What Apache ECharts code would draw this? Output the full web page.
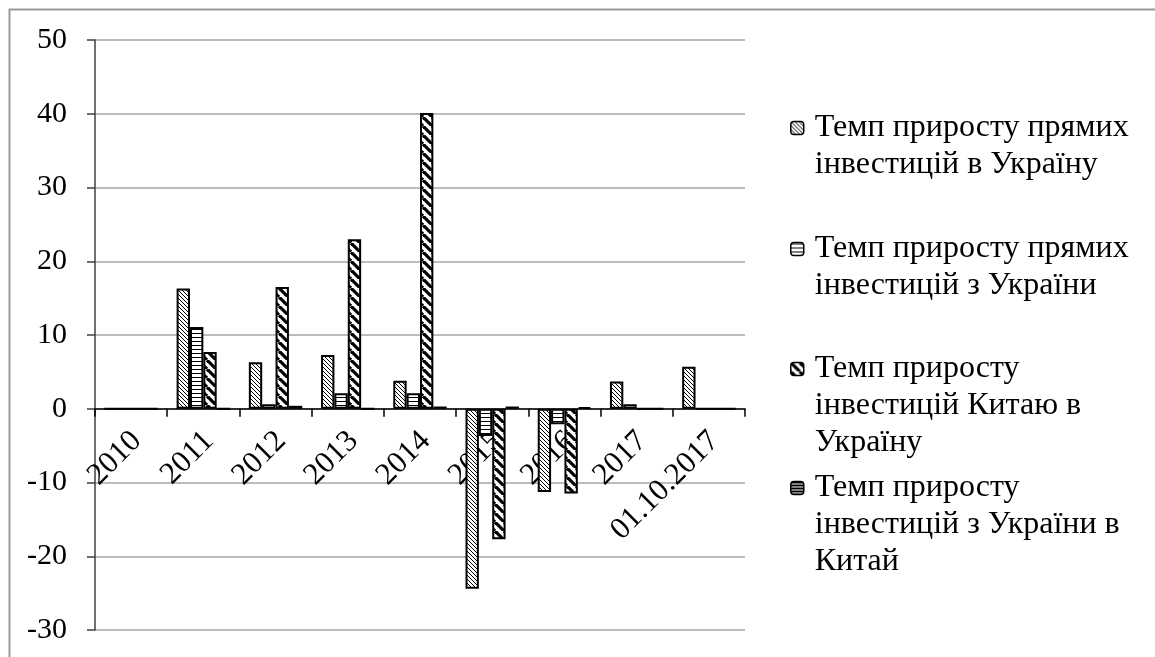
<!DOCTYPE html>
<html>
<head>
<meta charset="utf-8">
<script src="https://cdn.jsdelivr.net/npm/echarts@6/dist/echarts.min.js"></script>
<style>
html,body{margin:0;padding:0;background:#fff;}
#chart{width:1155px;height:657px;}
</style>
</head>
<body>
<div id="chart"></div>
<script>
const categories = ['2010', '2011', '2012', '2013', '2014', '2015', '2016', '2017', '01.10.2017'];
const seriesNames = [
  'Темп приросту прямих інвестицій в Україну',
  'Темп приросту прямих інвестицій з України',
  'Темп приросту інвестицій Китаю в Україну',
  'Темп приросту інвестицій з України в Китай'
];
const legendLabels = [
  'Темп приросту прямих\nінвестицій в Україну',
  'Темп приросту прямих\nінвестицій з України',
  'Темп приросту\nінвестицій Китаю в\nУкраїну',
  'Темп приросту\nінвестицій з України в\nКитай'
];
const fdiInUkraine = [0, 16.3, 6.3, 7.3, 3.8, -24.4, -11.3, 3.7, 5.7];
const fdiFromUkraine = [0, 11.1, 0.6, 2.1, 2.1, -3.7, -2.1, 0.6, 0];
const chinaToUkraine = [0, 7.7, 16.5, 23.0, 40.1, -17.7, -11.5, 0, 0];
const ukraineToChina = [0, 0, 0.4, 0, 0.3, 0.3, 0.2, 0, 0];
const yTicks = { min: -30, max: 50, interval: 10 };

function makePattern(type) {
  const c = document.createElement('canvas');
  const ctx = c.getContext('2d');
  let s;
  if (type === 'thinDiag') {
    s = 4; c.width = s; c.height = s;
    ctx.fillStyle = '#fff'; ctx.fillRect(0, 0, s, s);
    ctx.strokeStyle = '#000'; ctx.lineWidth = 1;
    for (let k = -s; k <= s; k += s) {
      ctx.beginPath(); ctx.moveTo(k, 0); ctx.lineTo(k + s, s); ctx.stroke();
    }
  } else if (type === 'horiz') {
    s = 4; c.width = s; c.height = s;
    ctx.fillStyle = '#fff'; ctx.fillRect(0, 0, s, s);
    ctx.fillStyle = '#000'; ctx.fillRect(0, 1, s, 1);
  } else if (type === 'wideDiag') {
    s = 9; c.width = s; c.height = s;
    ctx.fillStyle = '#fff'; ctx.fillRect(0, 0, s, s);
    ctx.strokeStyle = '#000'; ctx.lineWidth = 3.2;
    for (let k = -s; k <= s; k += s) {
      ctx.beginPath(); ctx.moveTo(k, 0); ctx.lineTo(k + s, s); ctx.stroke();
    }
  } else {
    s = 3; c.width = s; c.height = s;
    ctx.fillStyle = '#fff'; ctx.fillRect(0, 0, s, s);
    ctx.fillStyle = '#000'; ctx.fillRect(0, 0, s, 2);
  }
  return { image: c, repeat: 'repeat' };
}

const patterns = [makePattern('thinDiag'), makePattern('horiz'), makePattern('wideDiag'), makePattern('dense')];
const dataSets = [fdiInUkraine, fdiFromUkraine, chinaToUkraine, ukraineToChina];
const FONT = "'Liberation Serif', 'Times New Roman', serif";
const LH = 37;
const iconCenters = [128, 249, 369, 488];

const GRID_TOP = 40, GRID_BOTTOM = 27, CHART_H = 657;
const plotH = CHART_H - GRID_TOP - GRID_BOTTOM;
const zeroOffset = plotH * (0 - yTicks.min) / (yTicks.max - yTicks.min);

const series = seriesNames.map((name, i) => ({
  name: name,
  type: 'bar',
  data: dataSets[i],
  barGap: '0%',
  barCategoryGap: '26%',
  itemStyle: { color: patterns[i], borderColor: '#000', borderWidth: 2 },
  emphasis: { disabled: true },
  animation: false
}));

const legends = seriesNames.map((name, i) => {
  const lines = legendLabels[i].split('\n');
  const n = lines.length;
  const label = '\n'.repeat(n - 1) + legendLabels[i];
  return {
    data: [name],
    left: 790,
    top: iconCenters[i] - (2 * n - 1) * LH / 2,
    padding: 0,
    orient: 'vertical',
    itemWidth: 13,
    itemHeight: 13,
    selectedMode: false,
    formatter: () => label,
    itemStyle: { borderColor: '#000', borderWidth: 1.5 },
    textStyle: {
      fontFamily: FONT, fontSize: 32, color: '#000',
      lineHeight: LH, padding: [0, 0, 0, 6]
    }
  };
});

const chart = echarts.init(document.getElementById('chart'), null, { renderer: 'canvas' });
chart.setOption({
  backgroundColor: '#fff',
  animation: false,
  graphic: [{
    type: 'rect', left: 7, top: 7, z: -1,
    shape: { width: 1170, height: 680 },
    style: { fill: 'none', stroke: '#9a9a9a', lineWidth: 2 }
  }],
  legend: legends,
  grid: { left: 95, right: 410, top: GRID_TOP, bottom: GRID_BOTTOM, containLabel: false, outerBoundsMode: 'none' },
  xAxis: {
    type: 'category',
    data: categories,
    position: 'bottom',
    offset: -zeroOffset,
    axisLine: { onZero: false, lineStyle: { color: '#000', width: 1.5 } },
    axisTick: { show: true, length: 8, lineStyle: { color: '#000', width: 1.5 } },
    axisLabel: {
      rotate: 45, margin: 22, fontFamily: FONT, fontSize: 31, color: '#000', interval: 0,
      lineHeight: 16, verticalAlign: 'top'
    },
    splitLine: { show: false }
  },
  yAxis: {
    type: 'value',
    min: yTicks.min, max: yTicks.max, interval: yTicks.interval,
    axisLine: { show: true, lineStyle: { color: '#404040', width: 1.5 } },
    axisTick: { show: true, length: 8, lineStyle: { color: '#404040', width: 1.5 } },
    axisLabel: { margin: 28, fontFamily: FONT, fontSize: 30, color: '#000' },
    splitLine: { show: true, lineStyle: { color: '#a6a6a6', width: 1.5 } }
  },
  series: series
});
</script>
</body>
</html>
